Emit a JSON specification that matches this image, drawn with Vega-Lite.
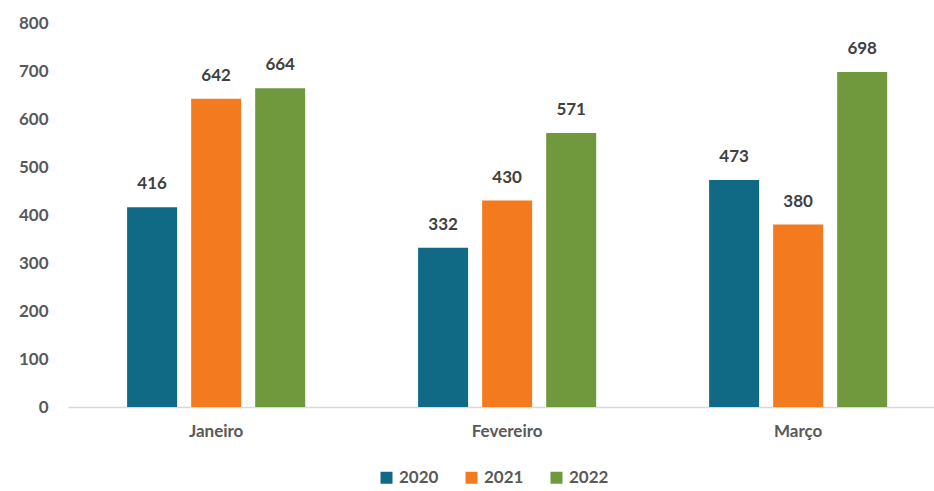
{
  "$schema": "https://vega.github.io/schema/vega-lite/v6.json",
  "width": 866,
  "height": 384,
  "autosize": {"type": "none"},
  "padding": {"left": 68, "top": 23, "right": 0, "bottom": 84},
  "background": "white",
  "config": {
    "view": {"stroke": null},
    "font": "Lato",
    "axis": {"grid": false, "ticks": false, "labelFont": "Lato", "labelFontWeight": "bold", "labelFontSize": 17, "labelColor": "#595959", "title": null}
  },
  "data": {
    "values": [
      {"mes": "Janeiro", "ano": "2020", "valor": 416},
      {"mes": "Janeiro", "ano": "2021", "valor": 642},
      {"mes": "Janeiro", "ano": "2022", "valor": 664},
      {"mes": "Fevereiro", "ano": "2020", "valor": 332},
      {"mes": "Fevereiro", "ano": "2021", "valor": 430},
      {"mes": "Fevereiro", "ano": "2022", "valor": 571},
      {"mes": "Março", "ano": "2020", "valor": 473},
      {"mes": "Março", "ano": "2021", "valor": 380},
      {"mes": "Março", "ano": "2022", "valor": 698}
    ]
  },
  "encoding": {
    "x": {
      "field": "mes", "type": "nominal", "sort": ["Janeiro", "Fevereiro", "Março"],
      "scale": {"paddingInner": 0.388, "paddingOuter": 0.182, "align": 0.558},
      "axis": {"labelAngle": 0, "domainColor": "#d9d9d9", "domainWidth": 1.5, "labelPadding": 16}
    },
    "xOffset": {"field": "ano", "type": "nominal", "scale": {"paddingInner": 0.219, "paddingOuter": 0}},
    "y": {
      "field": "valor", "type": "quantitative",
      "scale": {"domain": [0, 800], "nice": false},
      "axis": {"values": [0, 100, 200, 300, 400, 500, 600, 700, 800], "domain": false, "labelPadding": 20}
    }
  },
  "layer": [
    {
      "mark": {"type": "bar"},
      "encoding": {
        "color": {
          "field": "ano", "type": "nominal",
          "scale": {"domain": ["2020", "2021", "2022"], "range": ["#106a86", "#f47a20", "#6f993c"]},
          "legend": {
            "title": null, "orient": "none", "direction": "horizontal",
            "legendX": 310, "legendY": 446,
            "symbolType": "square", "symbolSize": 144, "symbolStrokeWidth": 0,
            "labelFont": "Lato", "labelFontWeight": "bold", "labelFontSize": 17, "labelColor": "#595959",
            "labelOffset": 4, "columnPadding": 24, "padding": 0
          }
        }
      }
    },
    {
      "mark": {"type": "text", "baseline": "alphabetic", "dy": -18, "font": "Lato", "fontWeight": "bold", "fontSize": 17, "color": "#404040"},
      "encoding": {"text": {"field": "valor", "type": "quantitative"}}
    }
  ]
}
